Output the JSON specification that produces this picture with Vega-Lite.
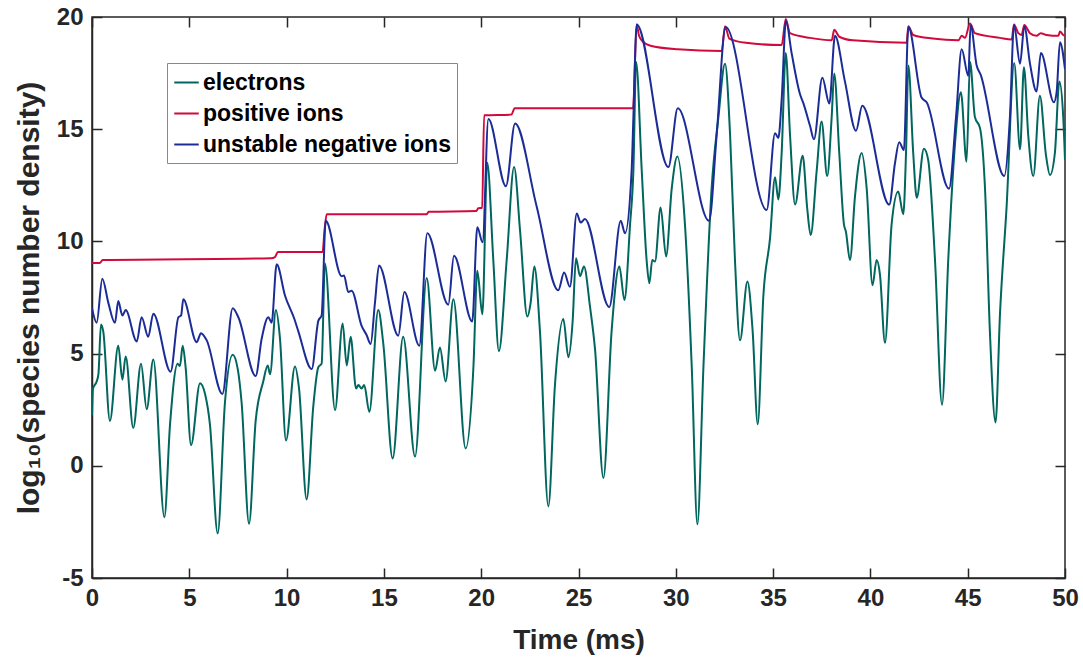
{
"$schema": "https://vega.github.io/schema/vega-lite/v6.json",
"width": 973, "height": 561,
"autosize": {"type": "none"},
"padding": {"left": 92, "top": 17, "right": 18, "bottom": 83},
"config": {
  "view": {"stroke": "#262626", "strokeWidth": 1.5},
  "font": "Liberation Sans",
  "axis": {"grid": false, "domainColor": "#262626", "domainWidth": 1.5, "tickColor": "#262626", "tickWidth": 1.5, "tickSize": 10,
    "labelFont": "Liberation Sans", "labelFontWeight": "bold", "labelFontSize": 24, "labelColor": "#262626", "labelFlush": false, "labelOverlap": false,
    "titleFont": "Liberation Sans", "titleFontWeight": "bold", "titleColor": "#262626"}
},
"data": {"values": [
{"s":"electrons","t":0,"v":2.25},{"s":"electrons","t":0.05,"v":3.44},{"s":"electrons","t":0.24,"v":3.76},{"s":"electrons","t":0.33,"v":4.08},{"s":"electrons","t":0.46,"v":6.3},{"s":"electrons","t":0.58,"v":5.98},{"s":"electrons","t":0.92,"v":2.0},{"s":"electrons","t":1.35,"v":5.35},{"s":"electrons","t":1.56,"v":3.84},{"s":"electrons","t":1.73,"v":4.87},{"s":"electrons","t":2.12,"v":1.69},{"s":"electrons","t":2.52,"v":4.55},{"s":"electrons","t":2.81,"v":2.52},{"s":"electrons","t":3.15,"v":4.74},{"s":"electrons","t":3.72,"v":-2.29},{"s":"electrons","t":4.01,"v":1.85},{"s":"electrons","t":4.4,"v":4.55},{"s":"electrons","t":4.52,"v":4.45},{"s":"electrons","t":4.66,"v":5.35},{"s":"electrons","t":4.81,"v":4.4},{"s":"electrons","t":5.09,"v":0.92},{"s":"electrons","t":5.55,"v":3.68},{"s":"electrons","t":5.81,"v":3.2},{"s":"electrons","t":6.06,"v":1.85},{"s":"electrons","t":6.46,"v":-3.01},{"s":"electrons","t":6.83,"v":2.8},{"s":"electrons","t":7.23,"v":4.95},{"s":"electrons","t":7.49,"v":4.31},{"s":"electrons","t":7.69,"v":2.8},{"s":"electrons","t":8.07,"v":-2.58},{"s":"electrons","t":8.41,"v":2.0},{"s":"electrons","t":8.8,"v":3.76},{"s":"electrons","t":9.03,"v":4.47},{"s":"electrons","t":9.15,"v":4.08},{"s":"electrons","t":9.45,"v":6.94},{"s":"electrons","t":9.66,"v":5.67},{"s":"electrons","t":9.97,"v":1.13},{"s":"electrons","t":10.43,"v":4.43},{"s":"electrons","t":10.64,"v":3.44},{"s":"electrons","t":11.03,"v":-1.5},{"s":"electrons","t":11.37,"v":2.64},{"s":"electrons","t":11.63,"v":4.39},{"s":"electrons","t":11.8,"v":4.55},{"s":"electrons","t":11.97,"v":9.01},{"s":"electrons","t":12.49,"v":2.48},{"s":"electrons","t":12.88,"v":6.34},{"s":"electrons","t":13.09,"v":4.47},{"s":"electrons","t":13.29,"v":5.75},{"s":"electrons","t":13.57,"v":3.44},{"s":"electrons","t":13.69,"v":3.6},{"s":"electrons","t":13.85,"v":3.44},{"s":"electrons","t":13.99,"v":3.6},{"s":"electrons","t":14.25,"v":2.4},{"s":"electrons","t":14.71,"v":6.94},{"s":"electrons","t":14.97,"v":5.43},{"s":"electrons","t":15.45,"v":0.33},{"s":"electrons","t":15.99,"v":5.75},{"s":"electrons","t":16.6,"v":0.41},{"s":"electrons","t":17.2,"v":8.37},{"s":"electrons","t":17.63,"v":4.24},{"s":"electrons","t":17.88,"v":5.27},{"s":"electrons","t":18.17,"v":3.76},{"s":"electrons","t":18.57,"v":7.42},{"s":"electrons","t":19.2,"v":0.77},{"s":"electrons","t":19.6,"v":4.4},{"s":"electrons","t":19.8,"v":8.69},{"s":"electrons","t":20.06,"v":6.75},{"s":"electrons","t":20.31,"v":13.5},{"s":"electrons","t":20.62,"v":9.2},{"s":"electrons","t":20.91,"v":5.11},{"s":"electrons","t":21.31,"v":9.17},{"s":"electrons","t":21.69,"v":13.31},{"s":"electrons","t":22.0,"v":10.44},{"s":"electrons","t":22.37,"v":6.65},{"s":"electrons","t":22.54,"v":7.26},{"s":"electrons","t":22.73,"v":8.88},{"s":"electrons","t":23.02,"v":5.98},{"s":"electrons","t":23.45,"v":-1.81},{"s":"electrons","t":23.79,"v":3.6},{"s":"electrons","t":24.22,"v":6.54},{"s":"electrons","t":24.48,"v":4.84},{"s":"electrons","t":24.7,"v":6.46},{"s":"electrons","t":24.87,"v":9.25},{"s":"electrons","t":25.08,"v":8.45},{"s":"electrons","t":25.28,"v":8.88},{"s":"electrons","t":25.59,"v":7.1},{"s":"electrons","t":25.85,"v":5.19},{"s":"electrons","t":26.28,"v":-0.54},{"s":"electrons","t":26.7,"v":5.99},{"s":"electrons","t":27.1,"v":8.88},{"s":"electrons","t":27.36,"v":7.39},{"s":"electrons","t":27.65,"v":10.76},{"s":"electrons","t":27.82,"v":13.15},{"s":"electrons","t":27.96,"v":18.0},{"s":"electrons","t":28.25,"v":13.15},{"s":"electrons","t":28.5,"v":9.17},{"s":"electrons","t":28.64,"v":8.13},{"s":"electrons","t":28.79,"v":9.17},{"s":"electrons","t":28.93,"v":9.1},{"s":"electrons","t":29.22,"v":11.51},{"s":"electrons","t":29.5,"v":9.33},{"s":"electrons","t":29.79,"v":12.35},{"s":"electrons","t":30.08,"v":13.78},{"s":"electrons","t":30.47,"v":10.76},{"s":"electrons","t":30.82,"v":4.4},{"s":"electrons","t":31.11,"v":-2.61},{"s":"electrons","t":31.42,"v":4.4},{"s":"electrons","t":31.84,"v":12.35},{"s":"electrons","t":32.19,"v":15.54},{"s":"electrons","t":32.53,"v":17.92},{"s":"electrons","t":32.79,"v":14.74},{"s":"electrons","t":33.04,"v":9.17},{"s":"electrons","t":33.3,"v":5.59},{"s":"electrons","t":33.68,"v":8.21},{"s":"electrons","t":33.95,"v":5.99},{"s":"electrons","t":34.21,"v":1.85},{"s":"electrons","t":34.5,"v":7.58},{"s":"electrons","t":34.84,"v":10.12},{"s":"electrons","t":35.1,"v":12.86},{"s":"electrons","t":35.27,"v":11.87},{"s":"electrons","t":35.44,"v":13.94},{"s":"electrons","t":35.65,"v":18.4},{"s":"electrons","t":35.87,"v":14.74},{"s":"electrons","t":36.13,"v":11.64},{"s":"electrons","t":36.52,"v":13.82},{"s":"electrons","t":36.75,"v":11.5},{"s":"electrons","t":36.93,"v":10.28},{"s":"electrons","t":37.24,"v":13.15},{"s":"electrons","t":37.49,"v":15.34},{"s":"electrons","t":37.78,"v":12.91},{"s":"electrons","t":38.01,"v":15.54},{"s":"electrons","t":38.14,"v":17.48},{"s":"electrons","t":38.4,"v":13.94},{"s":"electrons","t":38.64,"v":10.76},{"s":"electrons","t":38.74,"v":10.44},{"s":"electrons","t":38.95,"v":9.17},{"s":"electrons","t":39.21,"v":12.03},{"s":"electrons","t":39.55,"v":13.94},{"s":"electrons","t":39.81,"v":12.35},{"s":"electrons","t":40.11,"v":8.05},{"s":"electrons","t":40.32,"v":9.17},{"s":"electrons","t":40.49,"v":8.53},{"s":"electrons","t":40.75,"v":5.48},{"s":"electrons","t":41.09,"v":10.76},{"s":"electrons","t":41.43,"v":12.22},{"s":"electrons","t":41.69,"v":11.21},{"s":"electrons","t":41.83,"v":13.94},{"s":"electrons","t":41.95,"v":17.84},{"s":"electrons","t":42.2,"v":13.94},{"s":"electrons","t":42.38,"v":11.95},{"s":"electrons","t":42.75,"v":14.13},{"s":"electrons","t":42.97,"v":13.63},{"s":"electrons","t":43.32,"v":9.17},{"s":"electrons","t":43.68,"v":2.72},{"s":"electrons","t":44.0,"v":9.17},{"s":"electrons","t":44.34,"v":14.26},{"s":"electrons","t":44.65,"v":16.65},{"s":"electrons","t":44.94,"v":13.55},{"s":"electrons","t":45.12,"v":18.0},{"s":"electrons","t":45.37,"v":15.54},{"s":"electrons","t":45.63,"v":15.06},{"s":"electrons","t":45.89,"v":12.35},{"s":"electrons","t":46.14,"v":5.99},{"s":"electrons","t":46.43,"v":1.93},{"s":"electrons","t":46.66,"v":6.78},{"s":"electrons","t":47.0,"v":11.56},{"s":"electrons","t":47.39,"v":17.95},{"s":"electrons","t":47.69,"v":14.1},{"s":"electrons","t":47.89,"v":17.76},{"s":"electrons","t":48.11,"v":14.74},{"s":"electrons","t":48.37,"v":12.91},{"s":"electrons","t":48.71,"v":16.49},{"s":"electrons","t":49.02,"v":13.86},{"s":"electrons","t":49.23,"v":12.96},{"s":"electrons","t":49.48,"v":13.94},{"s":"electrons","t":49.71,"v":17.13},{"s":"electrons","t":49.91,"v":15.54},{"s":"electrons","t":50.0,"v":13.63},
{"s":"positive ions","t":0,"v":9.04},{"s":"positive ions","t":0.4,"v":9.04},{"s":"positive ions","t":0.55,"v":9.17},{"s":"positive ions","t":9.2,"v":9.25},{"s":"positive ions","t":9.4,"v":9.3},{"s":"positive ions","t":9.55,"v":9.53},{"s":"positive ions","t":11.85,"v":9.53},{"s":"positive ions","t":11.95,"v":10.5},{"s":"positive ions","t":12.06,"v":11.21},{"s":"positive ions","t":17.2,"v":11.21},{"s":"positive ions","t":17.3,"v":11.32},{"s":"positive ions","t":19.75,"v":11.35},{"s":"positive ions","t":19.85,"v":11.48},{"s":"positive ions","t":20.05,"v":11.5},{"s":"positive ions","t":20.15,"v":15.62},{"s":"positive ions","t":21.55,"v":15.65},{"s":"positive ions","t":21.72,"v":15.93},{"s":"positive ions","t":27.8,"v":15.93},{"s":"positive ions","t":27.99,"v":19.67},{"s":"positive ions","t":28.1,"v":19.2},{"s":"positive ions","t":28.25,"v":18.96},{"s":"positive ions","t":28.7,"v":18.72},{"s":"positive ions","t":30.1,"v":18.56},{"s":"positive ions","t":32.36,"v":18.48},{"s":"positive ions","t":32.53,"v":19.59},{"s":"positive ions","t":32.75,"v":19.04},{"s":"positive ions","t":33.6,"v":18.85},{"s":"positive ions","t":35.44,"v":18.75},{"s":"positive ions","t":35.65,"v":19.91},{"s":"positive ions","t":35.87,"v":19.28},{"s":"positive ions","t":36.9,"v":19.07},{"s":"positive ions","t":38.01,"v":18.96},{"s":"positive ions","t":38.14,"v":19.43},{"s":"positive ions","t":38.4,"v":19.12},{"s":"positive ions","t":39.1,"v":18.96},{"s":"positive ions","t":41.86,"v":18.85},{"s":"positive ions","t":41.95,"v":19.59},{"s":"positive ions","t":42.2,"v":19.2},{"s":"positive ions","t":43.2,"v":19.04},{"s":"positive ions","t":44.52,"v":18.96},{"s":"positive ions","t":44.69,"v":19.16},{"s":"positive ions","t":44.86,"v":19.07},{"s":"positive ions","t":45.12,"v":19.71},{"s":"positive ions","t":45.37,"v":19.28},{"s":"positive ions","t":46.66,"v":19.07},{"s":"positive ions","t":47.26,"v":19.0},{"s":"positive ions","t":47.38,"v":19.67},{"s":"positive ions","t":47.6,"v":19.28},{"s":"positive ions","t":47.77,"v":19.2},{"s":"positive ions","t":47.91,"v":19.64},{"s":"positive ions","t":48.2,"v":19.28},{"s":"positive ions","t":48.54,"v":19.16},{"s":"positive ions","t":48.75,"v":19.28},{"s":"positive ions","t":49.05,"v":19.2},{"s":"positive ions","t":49.66,"v":19.16},{"s":"positive ions","t":49.74,"v":19.35},{"s":"positive ions","t":49.91,"v":19.2},{"s":"positive ions","t":50,"v":19.16},
{"s":"unstable negative ions","t":0,"v":7.02},{"s":"unstable negative ions","t":0.24,"v":6.38},{"s":"unstable negative ions","t":0.53,"v":8.34},{"s":"unstable negative ions","t":0.84,"v":7.26},{"s":"unstable negative ions","t":1.18,"v":6.37},{"s":"unstable negative ions","t":1.35,"v":7.34},{"s":"unstable negative ions","t":1.56,"v":6.7},{"s":"unstable negative ions","t":1.73,"v":6.94},{"s":"unstable negative ions","t":2.3,"v":5.54},{"s":"unstable negative ions","t":2.55,"v":6.62},{"s":"unstable negative ions","t":2.89,"v":5.75},{"s":"unstable negative ions","t":3.15,"v":6.78},{"s":"unstable negative ions","t":4.04,"v":4.19},{"s":"unstable negative ions","t":4.44,"v":6.62},{"s":"unstable negative ions","t":4.58,"v":6.7},{"s":"unstable negative ions","t":4.69,"v":7.42},{"s":"unstable negative ions","t":5.38,"v":5.51},{"s":"unstable negative ions","t":5.6,"v":5.91},{"s":"unstable negative ions","t":5.89,"v":5.6},{"s":"unstable negative ions","t":6.7,"v":3.2},{"s":"unstable negative ions","t":7.23,"v":7.02},{"s":"unstable negative ions","t":7.52,"v":6.62},{"s":"unstable negative ions","t":8.41,"v":4.0},{"s":"unstable negative ions","t":8.72,"v":5.67},{"s":"unstable negative ions","t":9.06,"v":6.62},{"s":"unstable negative ions","t":9.23,"v":6.38},{"s":"unstable negative ions","t":9.49,"v":8.98},{"s":"unstable negative ions","t":9.92,"v":7.58},{"s":"unstable negative ions","t":10.4,"v":6.54},{"s":"unstable negative ions","t":10.6,"v":6.0},{"s":"unstable negative ions","t":11.29,"v":4.31},{"s":"unstable negative ions","t":11.63,"v":6.46},{"s":"unstable negative ions","t":11.8,"v":6.7},{"s":"unstable negative ions","t":12.01,"v":10.92},{"s":"unstable negative ions","t":12.83,"v":8.45},{"s":"unstable negative ions","t":12.95,"v":8.48},{"s":"unstable negative ions","t":13.17,"v":7.74},{"s":"unstable negative ions","t":13.34,"v":7.8},{"s":"unstable negative ions","t":13.86,"v":6.22},{"s":"unstable negative ions","t":14.11,"v":5.83},{"s":"unstable negative ions","t":14.32,"v":5.43},{"s":"unstable negative ions","t":14.54,"v":7.26},{"s":"unstable negative ions","t":14.75,"v":8.93},{"s":"unstable negative ions","t":15.74,"v":5.8},{"s":"unstable negative ions","t":16.05,"v":7.74},{"s":"unstable negative ions","t":16.82,"v":5.35},{"s":"unstable negative ions","t":17.23,"v":10.36},{"s":"unstable negative ions","t":18.31,"v":7.18},{"s":"unstable negative ions","t":18.6,"v":9.36},{"s":"unstable negative ions","t":19.54,"v":6.43},{"s":"unstable negative ions","t":19.8,"v":10.63},{"s":"unstable negative ions","t":20.07,"v":9.96},{"s":"unstable negative ions","t":20.37,"v":15.46},{"s":"unstable negative ions","t":21.27,"v":12.46},{"s":"unstable negative ions","t":21.74,"v":15.25},{"s":"unstable negative ions","t":22.85,"v":11.56},{"s":"unstable negative ions","t":23.96,"v":7.82},{"s":"unstable negative ions","t":24.26,"v":8.61},{"s":"unstable negative ions","t":24.56,"v":7.98},{"s":"unstable negative ions","t":24.91,"v":11.24},{"s":"unstable negative ions","t":25.11,"v":10.84},{"s":"unstable negative ions","t":25.33,"v":11.0},{"s":"unstable negative ions","t":26.58,"v":7.07},{"s":"unstable negative ions","t":27.17,"v":10.92},{"s":"unstable negative ions","t":27.39,"v":10.36},{"s":"unstable negative ions","t":27.73,"v":13.15},{"s":"unstable negative ions","t":27.82,"v":15.5},{"s":"unstable negative ions","t":27.99,"v":19.67},{"s":"unstable negative ions","t":29.62,"v":13.31},{"s":"unstable negative ions","t":30.1,"v":15.93},{"s":"unstable negative ions","t":31.71,"v":10.92},{"s":"unstable negative ions","t":32.1,"v":14.74},{"s":"unstable negative ions","t":32.56,"v":19.55},{"s":"unstable negative ions","t":34.67,"v":11.4},{"s":"unstable negative ions","t":35.1,"v":14.82},{"s":"unstable negative ions","t":35.27,"v":14.61},{"s":"unstable negative ions","t":35.44,"v":16.33},{"s":"unstable negative ions","t":35.66,"v":19.83},{"s":"unstable negative ions","t":35.95,"v":18.4},{"s":"unstable negative ions","t":36.38,"v":16.57},{"s":"unstable negative ions","t":36.55,"v":16.17},{"s":"unstable negative ions","t":36.9,"v":15.14},{"s":"unstable negative ions","t":37.1,"v":14.55},{"s":"unstable negative ions","t":37.53,"v":17.29},{"s":"unstable negative ions","t":37.89,"v":16.14},{"s":"unstable negative ions","t":38.18,"v":19.16},{"s":"unstable negative ions","t":38.69,"v":17.13},{"s":"unstable negative ions","t":39.26,"v":14.93},{"s":"unstable negative ions","t":39.58,"v":16.04},{"s":"unstable negative ions","t":40.97,"v":11.64},{"s":"unstable negative ions","t":41.26,"v":13.47},{"s":"unstable negative ions","t":41.48,"v":14.42},{"s":"unstable negative ions","t":41.72,"v":14.07},{"s":"unstable negative ions","t":41.95,"v":19.55},{"s":"unstable negative ions","t":42.63,"v":16.41},{"s":"unstable negative ions","t":42.89,"v":16.2},{"s":"unstable negative ions","t":44.04,"v":12.35},{"s":"unstable negative ions","t":44.4,"v":15.54},{"s":"unstable negative ions","t":44.69,"v":18.56},{"s":"unstable negative ions","t":45.03,"v":17.37},{"s":"unstable negative ions","t":45.15,"v":19.64},{"s":"unstable negative ions","t":45.46,"v":17.84},{"s":"unstable negative ions","t":45.66,"v":17.44},{"s":"unstable negative ions","t":46.88,"v":12.91},{"s":"unstable negative ions","t":47.17,"v":15.54},{"s":"unstable negative ions","t":47.38,"v":19.64},{"s":"unstable negative ions","t":47.69,"v":17.92},{"s":"unstable negative ions","t":47.91,"v":19.59},{"s":"unstable negative ions","t":48.2,"v":17.92},{"s":"unstable negative ions","t":48.54,"v":16.68},{"s":"unstable negative ions","t":48.76,"v":18.4},{"s":"unstable negative ions","t":49.43,"v":16.2},{"s":"unstable negative ions","t":49.57,"v":16.65},{"s":"unstable negative ions","t":49.74,"v":18.88},{"s":"unstable negative ions","t":50,"v":17.68}
]},
"layer": [
  {
    "mark": {"type": "line", "strokeWidth": 2, "interpolate": "monotone", "clip": true},
    "encoding": {
      "x": {"field": "t", "type": "quantitative", "scale": {"domain": [0, 50], "nice": false, "zero": false},
        "axis": {"orient": "bottom", "values": [0,5,10,15,20,25,30,35,40,45,50], "ticks": false, "labelPadding": 8, "title": "Time (ms)", "titleFontSize": 28, "titlePadding": 16}},
      "y": {"field": "v", "type": "quantitative", "scale": {"domain": [-5, 20], "nice": false, "zero": false},
        "axis": {"orient": "left", "values": [-5,0,5,10,15,20], "ticks": false, "labelPadding": 9, "labelExpr": "replace(datum.label, '−', '-')", "title": "log₁₀(species number density)", "titleFontSize": 30, "titlePadding": 12}},
      "color": {"field": "s", "type": "nominal",
        "scale": {"domain": ["electrons", "positive ions", "unstable negative ions"], "range": ["#00665e", "#d10a3c", "#1c2c97"]},
        "legend": {"orient": "none", "legendX": 75, "legendY": 46, "title": null, "symbolType": "stroke", "symbolStrokeWidth": 2, "symbolSize": 600,
          "labelFontSize": 23, "labelFont": "Liberation Sans", "labelFontWeight": "bold", "labelColor": "black", "strokeColor": "#888", "fillColor": "white",
          "padding": 6, "rowPadding": 5, "labelOffset": 3, "labelLimit": 400}}
    }
  },
  {
    "mark": {"type": "line", "opacity": 0},
    "encoding": {
      "x": {"field": "t", "type": "quantitative", "axis": {"orient": "bottom", "offset": -10, "domain": false, "values": [0,5,10,15,20,25,30,35,40,45,50], "labels": false, "title": null}},
      "y": {"field": "v", "type": "quantitative", "axis": {"orient": "left", "offset": -10, "domain": false, "values": [-5,0,5,10,15,20], "labels": false, "title": null}},
      "detail": {"field": "s"}
    }
  },
  {
    "mark": {"type": "line", "opacity": 0},
    "encoding": {
      "x": {"field": "t", "type": "quantitative", "axis": {"orient": "top", "offset": -10, "domain": false, "values": [0,5,10,15,20,25,30,35,40,45,50], "labels": false, "title": null}},
      "y": {"field": "v", "type": "quantitative", "axis": {"orient": "right", "offset": -10, "domain": false, "values": [-5,0,5,10,15,20], "labels": false, "title": null}},
      "detail": {"field": "s"}
    }
  }
],
"resolve": {"axis": {"x": "independent", "y": "independent"}}
}
